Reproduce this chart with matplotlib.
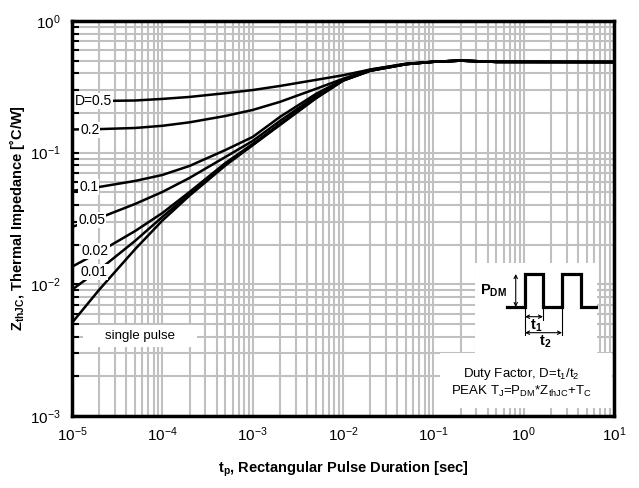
import matplotlib
matplotlib.use('Agg')
import matplotlib.pyplot as plt
from matplotlib.patches import Rectangle

plt.rcParams['font.family'] = ['Liberation Sans', 'DejaVu Sans']
plt.rcParams['mathtext.fontset'] = 'custom'
plt.rcParams['mathtext.rm'] = 'Liberation Sans'
plt.rcParams['mathtext.it'] = 'Liberation Sans:italic'
plt.rcParams['mathtext.bf'] = 'Liberation Sans:bold'

# pulse duration [s]
t = [1e-5, 2e-5, 5e-5, 1e-4, 2e-4, 5e-4, 1e-3, 2e-3, 5e-3, 1e-2, 2e-2, 5e-2,
     1e-1, 2e-1, 5e-1, 1e1]

# thermal impedance [C/W] per duty factor
z_single = [0.0051, 0.0091, 0.0185, 0.0305, 0.0472, 0.080, 0.114, 0.162,
            0.258, 0.352, 0.418, 0.470, 0.490, 0.500, 0.489, 0.488]
z_001 = [0.0091, 0.0129, 0.0214, 0.0325, 0.0486, 0.0821, 0.1144, 0.164,
         0.260, 0.353, 0.419, 0.470, 0.490, 0.500, 0.489, 0.488]
z_002 = [0.0136, 0.0176, 0.0254, 0.0348, 0.0503, 0.0835, 0.1164, 0.165,
         0.262, 0.354, 0.420, 0.470, 0.490, 0.500, 0.489, 0.488]
z_005 = [0.0273, 0.0319, 0.0408, 0.0503, 0.0643, 0.0928, 0.1227, 0.174,
         0.269, 0.356, 0.421, 0.470, 0.490, 0.500, 0.489, 0.488]
z_01 = [0.0512, 0.0549, 0.0610, 0.0677, 0.0793, 0.1048, 0.1316, 0.1866,
        0.279, 0.358, 0.423, 0.471, 0.490, 0.500, 0.489, 0.488]
z_02 = [0.150, 0.151, 0.154, 0.160, 0.170, 0.190, 0.211, 0.243,
        0.305, 0.364, 0.427, 0.472, 0.490, 0.500, 0.489, 0.488]
z_05 = [0.247, 0.247, 0.249, 0.256, 0.265, 0.283, 0.299, 0.321,
        0.357, 0.387, 0.428, 0.474, 0.490, 0.500, 0.489, 0.488]

curves = [z_05, z_02, z_01, z_005, z_002, z_001, z_single]

labels = ['D=0.5', '0.2', '0.1', '0.05', '0.02', '0.01']
label_pos = [(1.08e-5, 0.247), (1.23e-5, 0.149), (1.2e-5, 0.0549),
             (1.17e-5, 0.0308), (1.29e-5, 0.0179), (1.23e-5, 0.0124)]

xticks = [1e-5, 1e-4, 1e-3, 1e-2, 1e-1, 1e0, 1e1]
xticklabels = [r'$\mathregular{10^{-5}}$', r'$\mathregular{10^{-4}}$',
               r'$\mathregular{10^{-3}}$', r'$\mathregular{10^{-2}}$',
               r'$\mathregular{10^{-1}}$', r'$\mathregular{10^{0}}$',
               r'$\mathregular{10^{1}}$']
yticks = [1e-3, 1e-2, 1e-1, 1e0]
yticklabels = [r'$\mathregular{10^{-3}}$', r'$\mathregular{10^{-2}}$',
               r'$\mathregular{10^{-1}}$', r'$\mathregular{10^{0}}$']

fig = plt.figure(figsize=(6.39, 4.88), dpi=100)
ax = fig.add_axes([72 / 639, 72 / 488, 542 / 639, 395 / 488])

ax.set_xscale('log')
ax.set_yscale('log')
ax.set_xlim(1e-5, 10)
ax.set_ylim(1e-3, 1)

ax.set_axisbelow(True)
ax.grid(True, which='both', color='#c0c0c0', lw=1.5)

for z in curves:
    ax.plot(t, z, color='black', lw=1.8, zorder=3)

for lab, (lx, ly) in zip(labels, label_pos):
    ax.text(lx, ly, lab, fontsize=10, ha='left', va='center', zorder=5,
            bbox=dict(facecolor='white', edgecolor='none', pad=0.5))

# white boxes for annotations
ax.add_patch(Rectangle((0.0203, 0.1747), 0.2103, 0.0557, transform=ax.transAxes,
                       facecolor='white', edgecolor='none', zorder=1))
ax.text(0.1255, 0.2025, 'single pulse', transform=ax.transAxes, fontsize=9.5,
        ha='center', va='center', zorder=5)

ax.add_patch(Rectangle((0.7435, 0.1595), 0.2251, 0.2278, transform=ax.transAxes,
                       facecolor='white', edgecolor='none', zorder=1))
ax.add_patch(Rectangle((0.679, 0.0203), 0.3173, 0.139, transform=ax.transAxes,
                       facecolor='white', edgecolor='none', zorder=1))
ax.text(0.8284, 0.1063, r'Duty Factor, D=t$\mathregular{_1}$/t$\mathregular{_2}$',
        transform=ax.transAxes, fontsize=9.5, ha='center', va='center', zorder=5)
ax.text(0.8284, 0.0633,
        r'PEAK T$\mathregular{_J}$=P$\mathregular{_{DM}}$*Z$\mathregular{_{thJC}}$+T$\mathregular{_C}$',
        transform=ax.transAxes, fontsize=9.5, ha='center', va='center', zorder=5)

# pulse train sketch
wx = [0.8026, 0.8358, 0.8358, 0.8690, 0.8690, 0.9041, 0.9041, 0.9391, 0.9391, 0.9668]
wy = [0.2759, 0.2759, 0.3595, 0.3595, 0.2759, 0.2759, 0.3595, 0.3595, 0.2759, 0.2759]
ax.plot(wx, wy, color='black', lw=2.3, transform=ax.transAxes, zorder=4,
        solid_joinstyle='miter')
arr = dict(arrowstyle='<->', color='black', lw=0.8, shrinkA=0, shrinkB=0,
           mutation_scale=6)
ax.annotate('', xy=(0.8187, 0.3595), xytext=(0.8187, 0.2759),
            xycoords='axes fraction', arrowprops=arr, zorder=4)
ax.annotate('', xy=(0.8358, 0.2514), xytext=(0.8690, 0.2514),
            xycoords='axes fraction', arrowprops=arr, zorder=4)
ax.annotate('', xy=(0.8358, 0.2109), xytext=(0.9041, 0.2109),
            xycoords='axes fraction', arrowprops=arr, zorder=4)
for ex, ey in [(0.8358, 0.2051), (0.8690, 0.2430), (0.9041, 0.2051)]:
    ax.plot([ex, ex], [0.2759, ey], color='black', lw=0.8,
            transform=ax.transAxes, zorder=4)
ax.text(0.7786, 0.3165, r'$\mathbf{P_{DM}}$', transform=ax.transAxes,
        fontsize=10.5, ha='center', va='center', zorder=5)
ax.text(0.8561, 0.2278, r'$\mathbf{t_1}$', transform=ax.transAxes,
        fontsize=10.5, ha='center', va='center', zorder=5)
ax.text(0.8727, 0.1873, r'$\mathbf{t_2}$', transform=ax.transAxes,
        fontsize=10.5, ha='center', va='center', zorder=5)

ax.set_xticks(xticks)
ax.set_xticklabels(xticklabels, fontsize=11)
ax.set_yticks(yticks)
ax.set_yticklabels(yticklabels, fontsize=11)

ax.tick_params(axis='x', which='both', length=0, pad=7)
ax.tick_params(axis='y', which='both', direction='in', length=5, width=1.5,
               color='black', pad=8)

for s in ax.spines.values():
    s.set_linewidth(2.5)
    s.set_color('black')
    s.set_zorder(6)

ax.set_xlabel(r'$\mathbf{t_p}$, Rectangular Pulse Duration [sec]',
              fontsize=10.5, fontweight='bold', labelpad=11)
ax.set_ylabel(r'$\mathbf{Z_{thJC}}$, Thermal Impedance [˚C/W]',
              fontsize=10.5, fontweight='bold', labelpad=2)

fig.savefig('out.png', dpi=100)
